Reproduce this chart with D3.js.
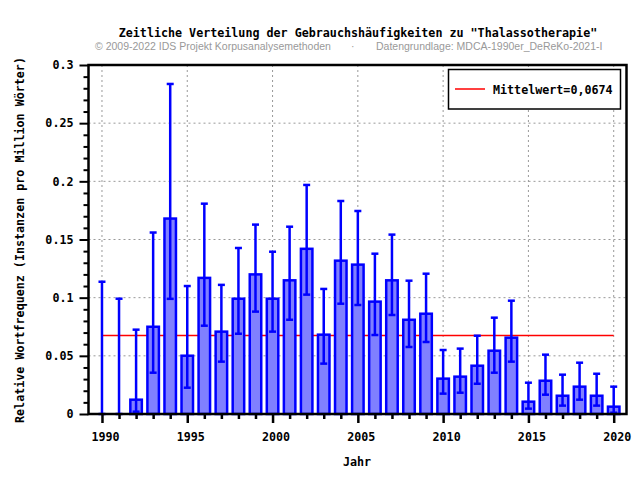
<!DOCTYPE html>
<html><head><meta charset="utf-8">
<script src="https://cdn.jsdelivr.net/npm/d3@7"></script>
<style>body{margin:0;background:#fff}svg{display:block}</style>
</head><body>
<svg id="c" width="640" height="480"></svg>
<script>
const years = d3.range(1990, 2021);
const values = [0, 0, 0.0123, 0.075, 0.168, 0.0501, 0.117, 0.0708, 0.0991, 0.120, 0.0991,
  0.1149, 0.142, 0.0682, 0.1318, 0.1284, 0.0966, 0.1149, 0.081, 0.0862, 0.0304,
  0.0321, 0.0415, 0.0544, 0.0656, 0.0106, 0.0286, 0.0157, 0.0235, 0.0157, 0.0063];
const errLow = [0, 0, 0.002, 0.0355, 0.099, 0.0226, 0.0759, 0.045, 0.069, 0.088, 0.0708,
  0.081, 0.1026, 0.0433, 0.0948, 0.0937, 0.0679, 0.0851, 0.0576, 0.0619, 0.0175,
  0.0183, 0.026, 0.0355, 0.045, 0.0046, 0.0166, 0.0072, 0.0123, 0.0072, 0.0011];
const errHigh = [0.1137, 0.0991, 0.0725, 0.156, 0.2837, 0.110, 0.1808, 0.111, 0.1427, 0.1628, 0.1395,
  0.161, 0.1969, 0.1075, 0.1831, 0.1745, 0.1378, 0.1542, 0.1146, 0.1206, 0.055,
  0.0562, 0.0673, 0.0828, 0.0974, 0.0269, 0.051, 0.0338, 0.0441, 0.0346, 0.0235];
const meanValue = 0.0674;
const yTicks = [0, 0.05, 0.1, 0.15, 0.2, 0.25, 0.3];
const yTickLabels = ["0", "0.05", "0.1", "0.15", "0.2", "0.25", "0.3"];
const xTicks = [1990, 1995, 2000, 2005, 2010, 2015, 2020];
const title = 'Zeitliche Verteilung der Gebrauchshäufigkeiten zu "Thalassotherapie"';
const sub1 = "© 2009-2022 IDS Projekt Korpusanalysemethoden";
const sub2 = "·";
const sub3 = "Datengrundlage: MDCA-1990er_DeReKo-2021-I";
const yLabel = "Relative Wortfrequenz (Instanzen pro Million Wörter)";
const xLabel = "Jahr";
const legendLabel = "Mittelwert=0,0674";

const svg = d3.select("#c");
const mono = "'DejaVu Sans Mono', monospace";
const L = 88.5, R = 626.5, T = 65, B = 414;
const x = d3.scaleLinear().domain([1989.21, 2020.75]).range([L, R]);
const y = d3.scaleLinear().domain([0, 0.3]).range([B, T]);

// grid
const g = svg.append("g");
g.selectAll(".gx").data(xTicks).join("line")
  .attr("x1", d => x(d)).attr("x2", d => x(d)).attr("y1", T).attr("y2", B)
  .attr("stroke", "#999").attr("stroke-width", 1).attr("stroke-dasharray", "2,3");
g.selectAll(".gy").data(yTicks.slice(1)).join("line")
  .attr("x1", L).attr("x2", R).attr("y1", d => y(d)).attr("y2", d => y(d))
  .attr("stroke", "#999").attr("stroke-width", 1).attr("stroke-dasharray", "2,3");

// mean line
svg.append("line").attr("x1", x(1990)).attr("x2", x(2020))
  .attr("y1", y(meanValue)).attr("y2", y(meanValue))
  .attr("stroke", "#ff0000").attr("stroke-width", 1.5);

// bars
const bw = 11.5;
svg.selectAll(".bar").data(years).join("rect")
  .attr("x", d => x(d) - bw / 2).attr("width", bw)
  .attr("y", (d, i) => y(values[i])).attr("height", (d, i) => B - y(values[i]))
  .attr("fill", (d, i) => values[i] > 0 ? "#8080ff" : "none")
  .attr("stroke", (d, i) => values[i] > 0 ? "#0000ff" : "none").attr("stroke-width", 2.5);

// error bars
const eg = svg.append("g").attr("stroke", "#0000ff").attr("stroke-width", 2.5);
eg.selectAll(".ev").data(years).join("line")
  .attr("x1", d => x(d)).attr("x2", d => x(d))
  .attr("y1", (d, i) => y(errLow[i])).attr("y2", (d, i) => y(errHigh[i]));
eg.selectAll(".et").data(years).join("line")
  .attr("x1", d => x(d) - 3.5).attr("x2", d => x(d) + 3.5)
  .attr("y1", (d, i) => y(errHigh[i])).attr("y2", (d, i) => y(errHigh[i]));
eg.selectAll(".eb").data(years).join("line")
  .attr("x1", d => x(d) - 3.5).attr("x2", d => x(d) + 3.5)
  .attr("y1", (d, i) => y(errLow[i])).attr("y2", (d, i) => y(errLow[i]));

// frame
svg.append("rect").attr("x", L).attr("y", T).attr("width", R - L).attr("height", B - T)
  .attr("fill", "none").attr("stroke", "#000").attr("stroke-width", 2.5);

// x axis
const xAxis = d3.axisBottom(x).tickValues(years).tickSize(4).tickFormat("");
const xa = svg.append("g").attr("transform", `translate(0,${B})`).call(xAxis);
xa.select(".domain").remove();
xa.selectAll(".tick line").attr("stroke-width", 2.5)
  .attr("y2", d => xTicks.includes(d) ? 9 : 5);
const xMaj = d3.axisBottom(x).tickValues(xTicks).tickSize(0).tickPadding(19).tickFormat(d3.format("d"));
const xm = svg.append("g").attr("transform", `translate(0,${B})`).call(xMaj);
xm.select(".domain").remove();
xm.selectAll("text").attr("font-family", mono).attr("font-weight", "bold")
  .attr("font-size", "11.7px").attr("fill", "#000").attr("dx", 3);

// y axis
const yMinor = d3.range(0, 0.3001, 0.01);
const ya = svg.append("g").attr("transform", `translate(${L},0)`)
  .call(d3.axisLeft(y).tickValues(yMinor).tickSize(4).tickFormat(""));
ya.select(".domain").remove();
ya.selectAll(".tick line").attr("stroke-width", 2)
  .attr("x2", (d, i) => i % 5 === 0 ? -9 : -5);
const yMaj = svg.append("g").attr("transform", `translate(${L},0)`)
  .call(d3.axisLeft(y).tickValues(yTicks).tickSize(0).tickPadding(15)
    .tickFormat((d, i) => yTickLabels[i]));
yMaj.select(".domain").remove();
yMaj.selectAll("text").attr("font-family", mono).attr("font-weight", "bold")
  .attr("font-size", "11.7px").attr("fill", "#000");

// titles
svg.append("text").attr("x", 358).attr("y", 37).attr("text-anchor", "middle")
  .attr("font-family", mono).attr("font-weight", "bold").attr("font-size", "11.7px").text(title);
const sf = "'Liberation Sans', Arial, sans-serif";
svg.append("text").attr("x", 95).attr("y", 50).attr("font-family", sf).attr("font-size", "10.5px")
  .attr("fill", "#999").text(sub1);
svg.append("text").attr("x", 351).attr("y", 50).attr("font-family", sf).attr("font-size", "10.5px")
  .attr("fill", "#999").text(sub2);
svg.append("text").attr("x", 376).attr("y", 50).attr("font-family", sf).attr("font-size", "10.5px")
  .attr("fill", "#999").text(sub3);
svg.append("text").attr("x", 357).attr("y", 466).attr("text-anchor", "middle")
  .attr("font-family", mono).attr("font-weight", "bold").attr("font-size", "11.7px").text(xLabel);
svg.append("text").attr("transform", "translate(24,240) rotate(-90)").attr("text-anchor", "middle")
  .attr("font-family", mono).attr("font-weight", "bold").attr("font-size", "11.7px").text(yLabel);

// legend
svg.append("rect").attr("x", 448.5).attr("y", 69.5).attr("width", 172).attr("height", 39.5)
  .attr("fill", "#fff").attr("stroke", "#000").attr("stroke-width", 1.5);
svg.append("line").attr("x1", 455).attr("x2", 485).attr("y1", 89).attr("y2", 89)
  .attr("stroke", "#ff0000").attr("stroke-width", 1.5);
svg.append("text").attr("x", 493).attr("y", 93.5).attr("font-family", mono).attr("font-weight", "bold")
  .attr("font-size", "11.7px").text(legendLabel);
</script>
</body></html>
